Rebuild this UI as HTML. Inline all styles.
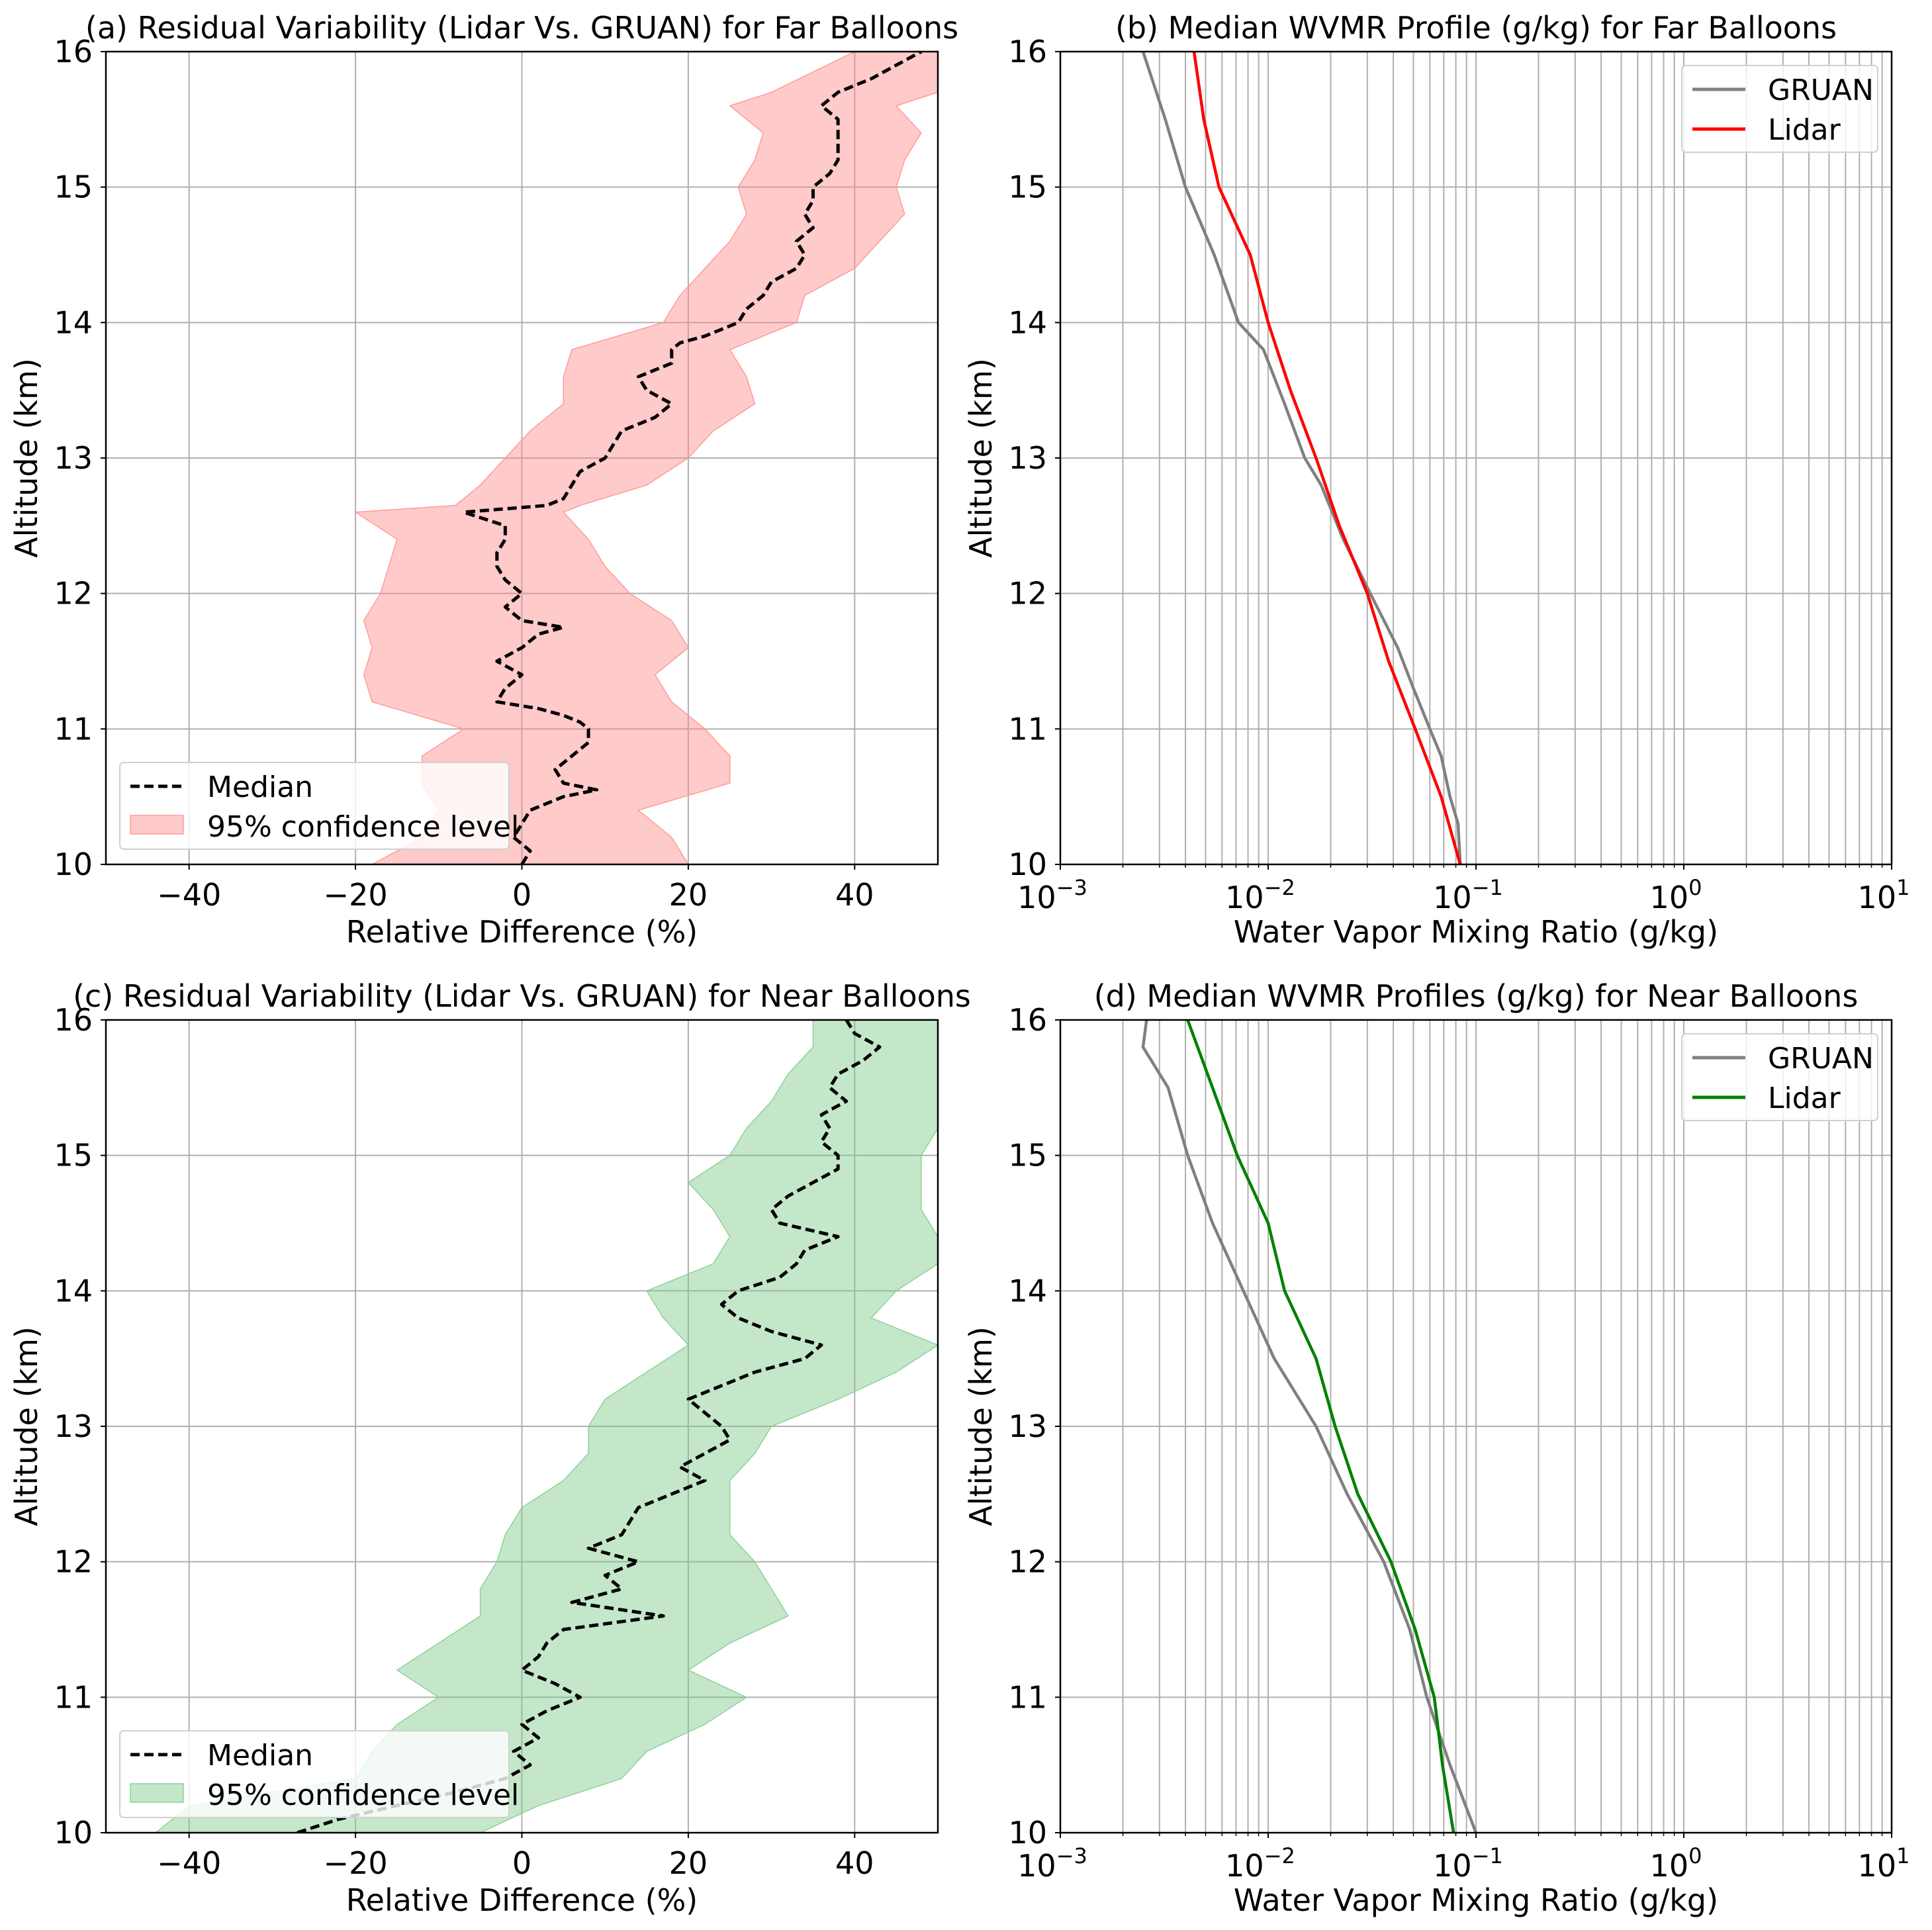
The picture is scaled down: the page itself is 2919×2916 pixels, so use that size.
<!DOCTYPE html>
<html><head><meta charset="utf-8"><style>
html,body{margin:0;padding:0;background:#fff}
svg{display:block;font-family:"DejaVu Sans","Liberation Sans",sans-serif}
</style></head><body>
<svg id="fig" width="2919" height="2916" viewBox="0 0 2919 2916" xmlns="http://www.w3.org/2000/svg"></svg>
<script>
// ---- data ----
const altA = [10.0,10.1,10.2,10.3,10.4,10.5,10.55,10.6,10.7,10.8,10.9,11.0,11.05,11.1,11.15,11.2,11.3,11.4,11.5,11.6,11.7,11.75,11.8,11.9,12.0,12.1,12.2,12.3,12.4,12.5,12.6,12.65,12.7,12.8,12.9,13.0,13.1,13.2,13.3,13.4,13.5,13.6,13.7,13.8,13.85,13.9,14.0,14.1,14.2,14.3,14.4,14.5,14.6,14.7,14.8,14.9,15.0,15.1,15.2,15.3,15.4,15.5,15.6,15.7,15.8,15.9,16.0];
const medianA = [0,1,-1,0,1,5,9,5,4,6,8,8,7,5,2,-3,-2,0,-3,0,2,5,0,-2,0,-2,-3,-3,-2,-2,-7,3,5,6,7,10,11,12,16,18,15,14,18,18,19,22,26,27,29,30,33,34,33,35,34,35,35,37,38,38,38,38,36,38,42,45,48];
const bandAltA = [10.0,10.2,10.4,10.6,10.8,11.0,11.2,11.4,11.6,11.8,12.0,12.2,12.4,12.6,12.65,12.8,13.0,13.2,13.4,13.6,13.8,14.0,14.2,14.4,14.6,14.8,15.0,15.2,15.4,15.6,15.7,16.0];
const lowA = [-18,-12,-10,-12,-12,-7,-18,-19,-18,-19,-17,-16,-15,-20,-8,-5,-2,1,5,5,6,17,19,22,25,27,26,28,29,25,30,40];
const highA = [20,18,14,25,25,22,18,16,20,18,13,10,8,5,7,15,20,23,28,27,25,33,34,40,43,46,45,46,48,45,50,50];

const altC = [10.0,10.1,10.2,10.3,10.4,10.5,10.6,10.7,10.8,10.9,11.0,11.1,11.2,11.3,11.4,11.5,11.6,11.7,11.8,11.9,12.0,12.1,12.2,12.3,12.4,12.5,12.6,12.7,12.8,12.9,13.0,13.1,13.2,13.3,13.4,13.5,13.6,13.7,13.8,13.9,14.0,14.1,14.2,14.3,14.4,14.5,14.6,14.7,14.8,14.9,15.0,15.1,15.2,15.3,15.4,15.5,15.6,15.7,15.8,15.9,16.0];
const medianC = [-27,-22,-15,-8,-2,1,-1,2,0,3,7,4,0,2,3,5,17,6,12,10,14,8,12,13,14,18,22,19,22,25,24,22,20,24,28,34,36,30,26,24,26,31,33,34,38,31,30,32,35,38,38,36,37,36,39,37,38,41,43,40,39];
const bandAltC = [10.0,10.2,10.4,10.6,10.8,11.0,11.2,11.4,11.6,11.8,12.0,12.2,12.4,12.6,12.8,13.0,13.2,13.4,13.6,13.8,14.0,14.2,14.4,14.6,14.8,15.0,15.2,15.4,15.6,15.8,16.0];
const lowC = [-44,-40,-20,-18,-15,-10,-15,-10,-5,-5,-3,-2,0,5,8,8,10,15,20,17,15,23,25,23,20,25,27,30,32,35,35];
const highC = [-5,2,12,15,22,27,20,25,32,30,28,25,25,25,28,30,38,45,50,42,45,50,50,48,48,48,50,50,50,50,50];

const altB = [10.0,10.3,10.5,10.8,11.0,11.3,11.6,12.0,12.4,12.8,13.0,13.4,13.8,14.0,14.5,15.0,15.5,16.0];
const gruanB = [0.084,0.082,0.075,0.068,0.06,0.05,0.042,0.031,0.023,0.018,0.015,0.012,0.0095,0.0072,0.0055,0.0040,0.0032,0.0025];
const altBL = [10.0,10.5,11.0,11.5,12.0,12.5,13.0,13.5,14.0,14.5,15.0,15.5,16.0];
const lidarB = [0.084,0.068,0.051,0.038,0.030,0.022,0.017,0.0128,0.010,0.0082,0.0058,0.0049,0.0044];

const altD = [10.0,10.5,11.0,11.5,12.0,12.5,13.0,13.5,14.0,14.5,15.0,15.5,15.8,16.0];
const gruanD = [0.10,0.075,0.058,0.048,0.036,0.024,0.017,0.0107,0.0076,0.0054,0.0041,0.0033,0.0025,0.0026];
const altDL = [10.0,10.5,11.0,11.5,12.0,12.5,13.0,13.5,14.0,14.5,15.0,15.5,16.0];
const lidarD = [0.078,0.069,0.063,0.051,0.039,0.027,0.021,0.017,0.012,0.010,0.0071,0.0054,0.0041];

const linTicks = [-40,-20,0,20,40];
const altTicks = [10,11,12,13,14,15,16];
const logExps = [-3,-2,-1,0,1];

// ---- drawing ----
const NS = "http://www.w3.org/2000/svg";
const svg = document.getElementById("fig");
function mk(tag, attrs, parent){
  const e = document.createElementNS(NS, tag);
  for (const k in attrs) e.setAttribute(k, attrs[k]);
  (parent||svg).appendChild(e); return e;
}
const FS = 46;
const panels = [
  {id:"a", x0:160, x1:1417, y0:78, y1:1306, type:"lin", title:"(a) Residual Variability (Lidar Vs. GRUAN) for Far Balloons"},
  {id:"b", x0:1602, x1:2858, y0:78, y1:1306, type:"log", title:"(b) Median WVMR Profile (g/kg) for Far Balloons"},
  {id:"c", x0:160, x1:1417, y0:1541, y1:2769, type:"lin", title:"(c) Residual Variability (Lidar Vs. GRUAN) for Near Balloons"},
  {id:"d", x0:1602, x1:2858, y0:1541, y1:2769, type:"log", title:"(d) Median WVMR Profiles (g/kg) for Near Balloons"}
];
function yScale(p, a){ return p.y1 - (a-10)/6*(p.y1-p.y0); }
function xLin(p, v){ return p.x0 + (v+50)/100*(p.x1-p.x0); }
function xLog(p, v){ return p.x0 + (Math.log10(v)+3)/4*(p.x1-p.x0); }

panels.forEach(p=>{
  const g = mk("g", {});
  
  
  const cx = (p.x0+p.x1)/2;
  const t = mk("text", {x:cx, y:p.y0-20, "font-size":FS, "text-anchor":"middle"}, g);
  t.textContent = p.title;
  
  
  const clip = mk("clipPath", {id:"clip"+p.id}, g);
  mk("rect", {x:p.x0, y:p.y0, width:p.x1-p.x0, height:p.y1-p.y0}, clip);
  const grid = mk("g", {stroke:"#b0b0b0", "stroke-width":2}, g);
  
  
  altTicks.forEach(a=>{ const y=yScale(p,a); mk("line",{x1:p.x0,x2:p.x1,y1:y,y2:y},grid); });
  const xticks = mk("g", {}, g);
  
  
  if (p.type==="lin"){
    linTicks.forEach(v=>{ const x=xLin(p,v);
      mk("line",{x1:x,x2:x,y1:p.y0,y2:p.y1},grid);
      mk("line",{x1:x,x2:x,y1:p.y1,y2:p.y1+8,stroke:"#000","stroke-width":2},g);
      const tx = mk("text",{x:x,y:p.y1+62,"font-size":FS,"text-anchor":"middle"},xticks);
      tx.textContent = v<0 ? "\u2212"+Math.abs(v) : String(v);
    });
  } else {
    for (let e=-3;e<1;e++) for (let m=2;m<10;m++){
      const x=xLog(p,m*Math.pow(10,e));
      mk("line",{x1:x,x2:x,y1:p.y0,y2:p.y1},grid);
      mk("line",{x1:x,x2:x,y1:p.y1,y2:p.y1+5,stroke:"#000","stroke-width":1.5},g);
    }
    logExps.forEach(e=>{ const x=xLog(p,Math.pow(10,e));
      mk("line",{x1:x,x2:x,y1:p.y0,y2:p.y1},grid);
      mk("line",{x1:x,x2:x,y1:p.y1,y2:p.y1+8,stroke:"#000","stroke-width":2},g);
      const tx = mk("text",{x:x-12,y:p.y1+66,"font-size":FS,"text-anchor":"middle"},xticks);
      const s1 = mk("tspan",{},tx); s1.textContent="10";
      const s2 = mk("tspan",{dy:-20,"font-size":32},tx); s2.textContent = e<0?"\u2212"+Math.abs(e):String(e);
    });
  }
  const yt = mk("g", {}, g);
  
  
  altTicks.forEach(a=>{ const y=yScale(p,a);
    mk("line",{x1:p.x0-8,x2:p.x0,y1:y,y2:y,stroke:"#000","stroke-width":2},g);
    const tx = mk("text",{x:p.x0-20,y:y+16,"font-size":FS,"text-anchor":"end"},yt);
    tx.textContent = String(a);
  });
  const xl = mk("text",{x:cx,y:p.y1+118,"font-size":FS,"text-anchor":"middle"},g);
  xl.textContent = p.type==="lin" ? "Relative Difference (%)" : "Water Vapor Mixing Ratio (g/kg)";
  
  
  const ycx = p.x0-104, ycy=(p.y0+p.y1)/2;
  const yl = mk("text",{x:ycx,y:ycy,"font-size":FS,"text-anchor":"middle",transform:`rotate(-90 ${ycx} ${ycy})`},g);
  yl.textContent = "Altitude (km)";
  
  
  p.g = mk("g",{"clip-path":`url(#clip${p.id})`},g);
  p.frame = g;
});

function band(p, alts, lo, hi, fill, stroke, name){
  let d="";
  alts.forEach((a,i)=>{ d+=(i?"L":"M")+xLin(p,lo[i])+","+yScale(p,a); });
  for (let i=alts.length-1;i>=0;i--) d+="L"+xLin(p,hi[i])+","+yScale(p,alts[i]);
  const e = mk("path",{d:d+"Z",fill:fill,stroke:stroke,"stroke-width":1.5,"fill-opacity":0.45},p.g);
  
  
}
function line(p, alts, vals, xf, color, dash, w, name){
  const pts = alts.map((a,i)=>xf(p,vals[i])+","+yScale(p,a)).join(" ");
  const e = mk("polyline",{points:pts,fill:"none",stroke:color,"stroke-width":w,"stroke-dasharray":dash||"none","stroke-linejoin":"round"},p.g);
  
  
}
const [pa,pb,pc,pd]=panels;
band(pa, bandAltA, lowA, highA, "#ff8a8a", "#ff9a9a", "confidence-band-far");
line(pa, altA, medianA, xLin, "#000", "14,7", 5, "median-line-far");
band(pc, bandAltC, lowC, highC, "#7cc98a", "#8fd09a", "confidence-band-near");
line(pc, altC, medianC, xLin, "#000", "14,7", 5, "median-line-near");
line(pb, altB, gruanB, xLog, "#808080", null, 4.5, "gruan-line-far");
line(pb, altBL, lidarB, xLog, "#ff0000", null, 4.5, "lidar-line-far");
line(pd, altD, gruanD, xLog, "#808080", null, 4.5, "gruan-line-near");
line(pd, altDL, lidarD, xLog, "#008000", null, 4.5, "lidar-line-near");

panels.forEach(p=>{
  const r = mk("rect",{x:p.x0,y:p.y0,width:p.x1-p.x0,height:p.y1-p.y0,fill:"none",stroke:"#000","stroke-width":2.5},p.frame);
  
  
});

function legendLeft(p, fill, stroke, name){
  const lx=p.x0+21, ly=p.y1-154;
  const g = mk("g",{},p.frame);
  
  
  mk("rect",{x:lx,y:ly,width:588,height:131,rx:6,fill:"#fff","fill-opacity":0.8,stroke:"#d0d0d0","stroke-width":2},g);
  mk("line",{x1:lx+16,x2:lx+96,y1:ly+36,y2:ly+36,stroke:"#000","stroke-width":5,"stroke-dasharray":"14,7"},g);
  const t1=mk("text",{x:lx+132,y:ly+52,"font-size":FS-2},g); t1.textContent="Median";
  mk("rect",{x:lx+16,y:ly+80,width:80,height:28,fill:fill,"fill-opacity":0.45,stroke:stroke,"stroke-width":1.5},g);
  const t2=mk("text",{x:lx+132,y:ly+112,"font-size":FS-2},g); t2.textContent="95% confidence level";
}
function legendRight(p, color, name){
  const lx=p.x1-317, ly=p.y0+21;
  const g = mk("g",{},p.frame);
  
  
  mk("rect",{x:lx,y:ly,width:296,height:131,rx:6,fill:"#fff","fill-opacity":0.8,stroke:"#d0d0d0","stroke-width":2},g);
  mk("line",{x1:lx+16,x2:lx+96,y1:ly+36,y2:ly+36,stroke:"#808080","stroke-width":5},g);
  const t1=mk("text",{x:lx+130,y:ly+52,"font-size":FS-2},g); t1.textContent="GRUAN";
  mk("line",{x1:lx+16,x2:lx+96,y1:ly+96,y2:ly+96,stroke:color,"stroke-width":5},g);
  const t2=mk("text",{x:lx+130,y:ly+112,"font-size":FS-2},g); t2.textContent="Lidar";
}
legendLeft(pa, "#ff8a8a", "#ff9a9a", "legend-far-residual");
legendLeft(pc, "#7cc98a", "#8fd09a", "legend-near-residual");
legendRight(pb, "#ff0000", "legend-far-wvmr");
legendRight(pd, "#008000", "legend-near-wvmr");
</script>
</body></html>
